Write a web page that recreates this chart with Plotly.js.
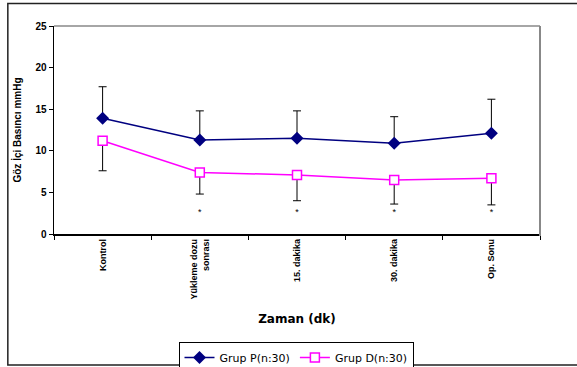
<!DOCTYPE html>
<html><head><meta charset="utf-8">
<script src="https://cdn.plot.ly/plotly-3.0.1.min.js"></script>
<style>html,body{margin:0;padding:0;background:#fff}#chart{width:577px;height:367px}</style>
</head><body><div id="chart"></div>
<script>
var categories = ["Kontrol", "Yükleme dozu<br>sonrası", "15. dakika", "30. dakika", "Op. Sonu"];
var grupP = [13.9, 11.3, 11.5, 10.9, 12.1];
var grupPErr = [3.8, 3.5, 3.3, 3.2, 4.1];
var grupD = [11.2, 7.4, 7.1, 6.5, 6.7];
var grupDErr = [3.6, 2.6, 3.1, 2.9, 3.2];
var sigLabels = ["", "*", "*", "*", "*"];
var sigY = [2.6, 2.6, 2.6, 2.6, 2.6];
var yTicks = [0, 5, 10, 15, 20, 25];

var F = "Arial, 'Liberation Sans', sans-serif";
var FW = "'DejaVu Sans', Verdana, sans-serif";
var zeros = grupP.map(function(){return 0;});

var traces = [
  {x: categories, y: grupP, name: "Grup P(n:30)", type: "scatter", mode: "lines+markers",
   line: {color: "#000080", width: 1.5},
   marker: {symbol: "diamond", size: 10, color: "#000080"},
   error_y: {type: "data", symmetric: false, array: grupPErr, arrayminus: zeros, color: "#000000", thickness: 1, width: 4}},
  {x: categories, y: grupD, name: "Grup D(n:30)", type: "scatter", mode: "lines+markers",
   line: {color: "#FF00FF", width: 1.5},
   marker: {symbol: "square", size: 9, color: "#FFFFFF", line: {color: "#FF00FF", width: 1.5}},
   error_y: {type: "data", symmetric: false, array: zeros, arrayminus: grupDErr, color: "#000000", thickness: 1, width: 4}},
  {x: categories, y: sigY, text: sigLabels, type: "scatter", mode: "text", showlegend: false,
   textfont: {family: F, size: 9, color: "#000"}, hoverinfo: "skip"}
];

var layout = {
  width: 577, height: 367,
  margin: {l: 54, r: 37, t: 26, b: 133},
  paper_bgcolor: "#fff", plot_bgcolor: "#fff",
  showlegend: true,
  legend: {orientation: "h", xref: "container", yref: "container", x: 0.513, xanchor: "center", y: 0.068, yanchor: "top",
           font: {family: FW, size: 11, color: "#000"}, bordercolor: "#000", borderwidth: 1,
           itemwidth: 30, tracegroupgap: 0},
  xaxis: {type: "category", range: [-0.5, 4.5], showgrid: false, zeroline: false,
          showline: true, linecolor: "#000", linewidth: 1.5, automargin: false,
          ticks: "outside", tickson: "boundaries", ticklen: 4, tickcolor: "#000",
          tickangle: -90, tickfont: {family: F, size: 9, color: "#000", weight: "bold"},
          title: {text: "Zaman (dk)", font: {family: FW, size: 12, color: "#000", weight: "bold"}, standoff: 16}},
  yaxis: {range: [0, 25], tickvals: yTicks, showgrid: false, zeroline: false,
          showline: true, linecolor: "#000", linewidth: 1.5, automargin: false,
          ticks: "outside", ticklen: 4, tickcolor: "#000",
          tickfont: {family: F, size: 10, color: "#000", weight: "bold"},
          title: {text: "Göz İçi Basıncı mmHg", font: {family: F, size: 10, color: "#000", weight: "bold"}, standoff: 12}},
  shapes: [
    {type: "line", xref: "paper", yref: "paper", x0: 0, x1: 1, y0: 1, y1: 1, line: {color: "#888", width: 1.5}},
    {type: "line", xref: "paper", yref: "paper", x0: 1, x1: 1, y0: -0.01, y1: 1, line: {color: "#888", width: 2}},
    {type: "rect", xref: "paper", yref: "paper", x0: -0.095, x1: 1.1, y0: -0.63, y1: 1.108, line: {color: "#222", width: 1.5}}
  ]
};

Plotly.newPlot("chart", traces, layout, {displayModeBar: false, staticPlot: true});
</script></body></html>
